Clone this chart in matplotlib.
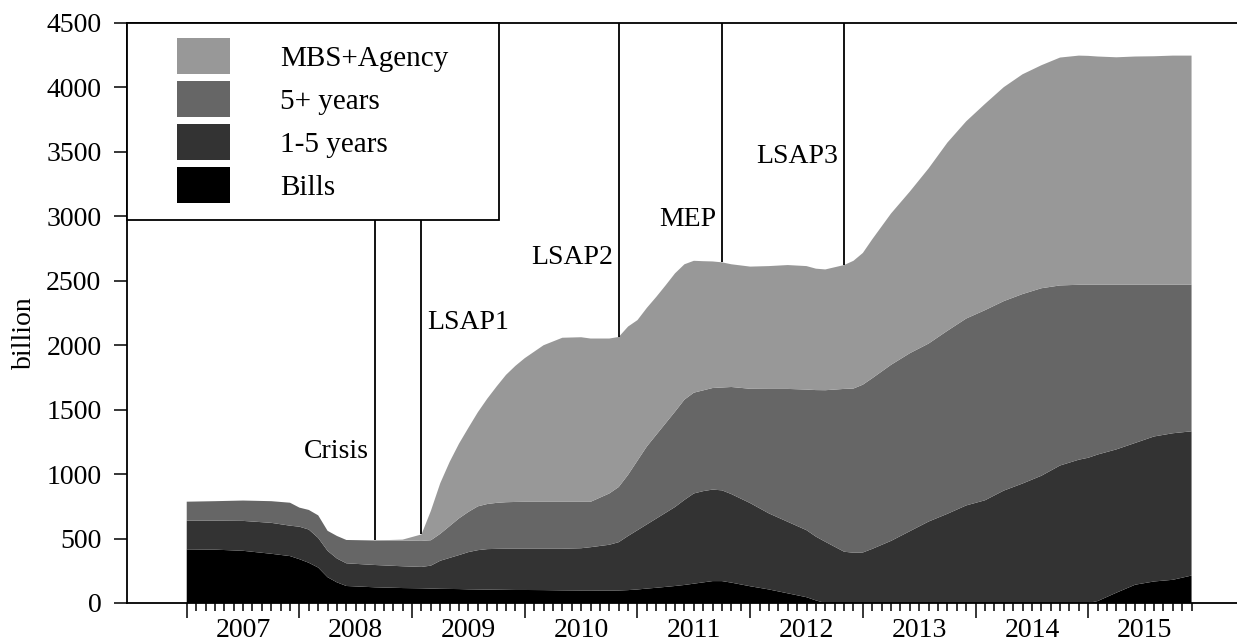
import matplotlib
matplotlib.use("Agg")
import matplotlib.pyplot as plt
import numpy as np
from matplotlib.patches import Patch, Rectangle

months = [
    "2007-01", "2007-04", "2007-07", "2007-10", "2007-12",
    "2008-01", "2008-02", "2008-03", "2008-04", "2008-05", "2008-06", "2008-09", "2008-12",
    "2009-02", "2009-03", "2009-04", "2009-05", "2009-06", "2009-07", "2009-08",
    "2009-09", "2009-10", "2009-11", "2009-12",
    "2010-01", "2010-03", "2010-05", "2010-07", "2010-08", "2010-10", "2010-11", "2010-12",
    "2011-01", "2011-02", "2011-03", "2011-04", "2011-05", "2011-06", "2011-07", "2011-08",
    "2011-09", "2011-10", "2011-11",
    "2012-01", "2012-03", "2012-05", "2012-07", "2012-08", "2012-09", "2012-11", "2012-12",
    "2013-01", "2013-02", "2013-04", "2013-06", "2013-08", "2013-10", "2013-12",
    "2014-02", "2014-04", "2014-06", "2014-08", "2014-10", "2014-12",
    "2015-01", "2015-02", "2015-04", "2015-06", "2015-08", "2015-10", "2015-12",
]
bills = [
    416, 414, 405, 382, 364,
    340, 312, 275, 200, 160, 132, 122, 116,
    114, 112, 110, 109, 108, 106, 105,
    104, 103, 102, 101,
    101, 100, 98, 97, 97, 96, 97, 100,
    105, 112, 118, 125, 132, 140, 150, 160,
    170, 170, 158,
    130, 105, 75, 45, 20, 0, 0, 0,
    0, 0, 0, 0, 0, 0, 0,
    0, 0, 0, 0, 0, 0,
    0, 15, 80, 142, 167, 180, 213,
]
years_1_5 = [
    223, 225, 232, 240, 236,
    252, 258, 230, 205, 185, 176, 173, 169,
    166, 178, 218, 241, 264, 289, 305,
    314, 317, 319, 320,
    320, 321, 323, 328, 336, 356, 375, 420,
    460, 498, 537, 575, 613, 660, 700, 708,
    710, 704, 687,
    645, 590, 555, 520, 495, 475, 398, 390,
    392, 420, 482, 557, 632, 692, 757,
    797, 872, 927, 987, 1067, 1112,
    1127, 1137, 1112, 1100, 1125, 1137, 1119,
]
years_5_plus = [
    147, 151, 158, 168, 178,
    148, 152, 175, 155, 175, 181, 190, 200,
    202, 197, 209, 247, 285, 312, 340,
    350, 357, 361, 363,
    364, 364, 364, 360, 352, 398, 428, 475,
    540, 605, 650, 695, 740, 778, 782, 782,
    788, 798, 831,
    887, 966, 1031, 1091, 1137, 1176, 1263, 1274,
    1302, 1324, 1366, 1381, 1381, 1420, 1450,
    1475, 1470, 1470, 1455, 1397, 1357,
    1342, 1317, 1277, 1227, 1177, 1152, 1137,
]
mbs_agency = [
    0, 0, 0, 0, 0,
    0, 0, 0, 0, 0, 0, 0, 7,
    50, 228, 393, 498, 580, 653, 730,
    817, 903, 988, 1056,
    1115, 1215, 1273, 1277, 1267, 1202, 1164, 1150,
    1090, 1075, 1070, 1070, 1073, 1050, 1023, 1002,
    982, 971, 952,
    948, 953, 961, 958, 942, 937, 961, 991,
    1022, 1078, 1174, 1254, 1359, 1460, 1530,
    1600, 1660, 1705, 1730, 1768, 1778,
    1776, 1771, 1765, 1771, 1773, 1778, 1778,
]

series_names = ["Bills", "1-5 years", "5+ years", "MBS+Agency"]
series_colors = ["#000000", "#333333", "#666666", "#989898"]

events = ["Crisis", "LSAP1", "LSAP2", "MEP", "LSAP3"]
event_months = ["2008-09", "2009-02", "2010-11", "2011-10", "2012-11"]
event_label_y = [1128, 2124, 2631, 2925, 3414]
event_side = ["left", "right", "left", "left", "left"]

year_ticks = list(range(2007, 2016))


def to_year(s):
    y, m = s.split("-")
    return int(y) + (int(m) - 1) / 12


x = np.array([to_year(m) for m in months])
stack = np.vstack([bills, years_1_5, years_5_plus, mbs_agency])
total = stack.sum(axis=0)

plt.rcParams["font.family"] = ["Liberation Serif", "DejaVu Serif"]
plt.rcParams["font.size"] = 20

fig = plt.figure(figsize=(12.37, 6.42), dpi=100)
ax = fig.add_axes([127 / 1237, 39 / 642, 1110 / 1237, 580 / 642])

ax.stackplot(x, stack, colors=series_colors, linewidth=0, zorder=2)

# policy event lines, from the top of the stack up to the frame
for name, mon, ly, side in zip(events, event_months, event_label_y, event_side):
    ex = to_year(mon)
    top = np.interp(ex, x, total)
    ax.vlines(ex, top, 4500, color="black", lw=1.3, zorder=3)
    off = 4 if side == "right" else -4
    ax.annotate(name, (ex, ly), xytext=(off, 0), textcoords="offset points",
                ha="left" if side == "right" else "right", va="baseline",
                fontsize=20, zorder=3)

ax.set_xlim(2006.47, 2016.32)
ax.set_ylim(0, 4500)
ax.set_yticks(np.arange(0, 4501, 500))
ax.set_ylabel("billion", fontsize=20)
ax.yaxis.set_label_coords(-0.081, 0.466)

ax.set_xticks(year_ticks)
ax.set_xticklabels([])
ax.set_xticks(np.arange(2007, 2015.92, 1 / 12), minor=True)
ax.tick_params(axis="x", which="major", direction="out", length=10.8, width=1.1)
ax.tick_params(axis="x", which="minor", direction="out", length=5.8, width=1.1)
ax.tick_params(axis="y", direction="out", length=9.4, width=1.1, pad=9, labelsize=20)

sec = ax.secondary_xaxis("bottom")
sec.set_xticks([y + 0.5 for y in year_ticks])
sec.set_xticklabels([str(y) for y in year_ticks])
sec.tick_params(length=0, pad=11, labelsize=20)
sec.spines["bottom"].set_visible(False)

ax.spines["right"].set_visible(False)
for s in ["left", "bottom", "top"]:
    ax.spines[s].set_linewidth(1.3)

# legend box
ax.add_patch(Rectangle((0, 0.660), 0.335, 0.340, transform=ax.transAxes,
                       facecolor="white", edgecolor="black", lw=1.3,
                       zorder=5, clip_on=False))
handles = [Patch(facecolor=c, edgecolor="none") for c in series_colors[::-1]]
leg = ax.legend(handles, series_names[::-1], loc="upper left",
                bbox_to_anchor=(0.045, 0.974), frameon=False, borderpad=0,
                borderaxespad=0, handlelength=1.815, handleheight=1.52,
                labelspacing=0.24, handletextpad=1.71, fontsize=21)
leg.set_zorder(6)

fig.savefig("out.png", dpi=100)
